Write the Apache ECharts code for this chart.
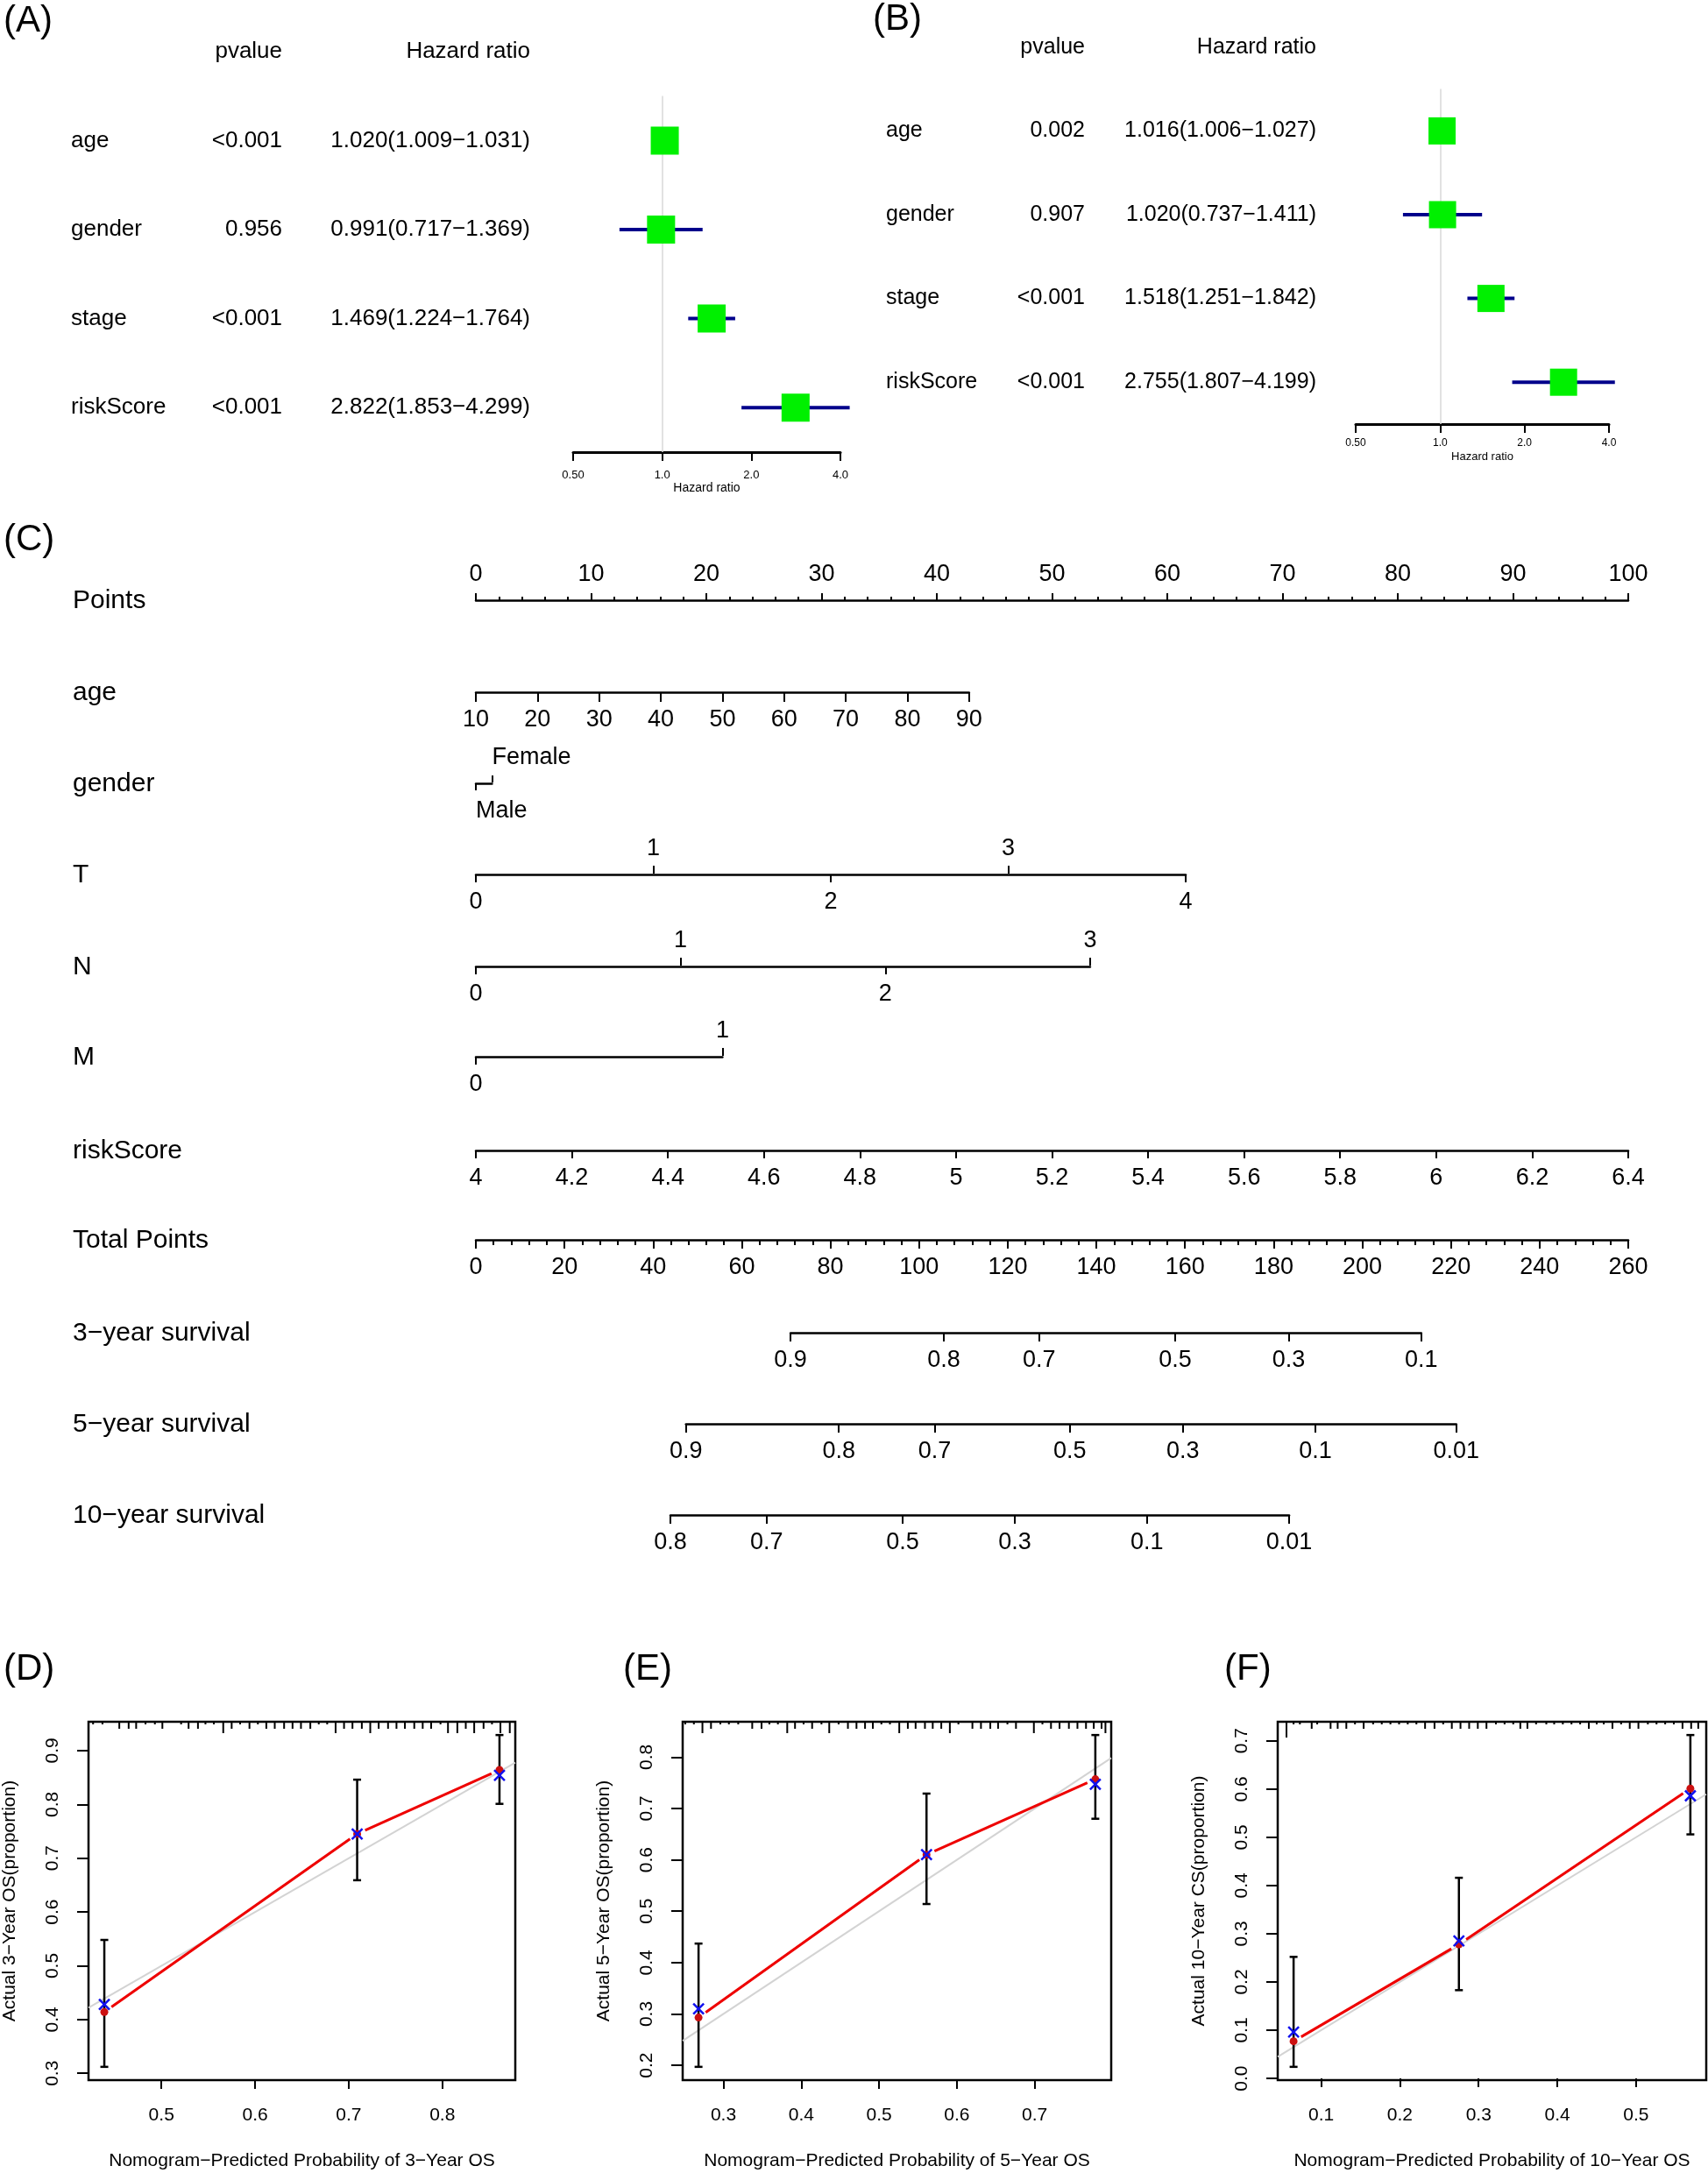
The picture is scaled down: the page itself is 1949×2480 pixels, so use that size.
<!DOCTYPE html>
<html>
<head>
<meta charset="utf-8">
<title>Cox models, nomogram and calibration curves</title>
<script src="https://cdn.jsdelivr.net/npm/echarts@6/dist/echarts.min.js"></script>
<style>
  html, body { margin: 0; padding: 0; background: #fff; }
  #chart { width: 1949px; height: 2480px; }
</style>
</head>
<body>
<div id="chart"></div>
<script>
// ---------- data ----------
// (A) univariate Cox
const forestVars = ['age', 'gender', 'stage', 'riskScore'];
const uniP = ['<0.001', '0.956', '<0.001', '<0.001'];
const uniHR = [1.020, 0.991, 1.469, 2.822];
const uniLow = [1.009, 0.717, 1.224, 1.853];
const uniHigh = [1.031, 1.369, 1.764, 4.299];
// (B) multivariate Cox
const multiP = ['0.002', '0.907', '<0.001', '<0.001'];
const multiHR = [1.016, 1.020, 1.518, 2.755];
const multiLow = [1.006, 0.737, 1.251, 1.807];
const multiHigh = [1.027, 1.411, 1.842, 4.199];
const hrTicks = [0.5, 1, 2, 4];

// (C) nomogram: tick values, and the points reached at the first / last tick
const pointsTicksMax = 100;
const ageTicks = [10, 20, 30, 40, 50, 60, 70, 80, 90];
const agePts = [0, 42.8];
const genderLevels = ['Male', 'Female'];
const genderPts = [0, 1.4];
const tTicks = [0, 1, 2, 3, 4];
const tPts = [0, 61.6];
const nTicks = [0, 1, 2, 3];
const nPts = [0, 53.3];
const mTicks = [0, 1];
const mPts = [0, 21.4];
const riskTicks = [4, 4.2, 4.4, 4.6, 4.8, 5, 5.2, 5.4, 5.6, 5.8, 6, 6.2, 6.4];
const riskPts = [0, 100];
const totalMax = 260;
const surv3Labels = ['0.9', '0.8', '0.7', '0.5', '0.3', '0.1'];
const surv3Total = [71.0, 105.6, 127.1, 157.8, 183.4, 213.3];
const surv5Labels = ['0.9', '0.8', '0.7', '0.5', '0.3', '0.1', '0.01'];
const surv5Total = [47.4, 81.9, 103.5, 134.0, 159.5, 189.4, 221.2];
const surv10Labels = ['0.8', '0.7', '0.5', '0.3', '0.1', '0.01'];
const surv10Total = [43.9, 65.6, 96.3, 121.6, 151.4, 183.5];

// (D) 3-year calibration
const cal3Pred = [0.439, 0.709, 0.861];
const cal3Obs = [0.414, 0.745, 0.864];
const cal3Corr = [0.428, 0.745, 0.854];
const cal3Lo = [0.312, 0.659, 0.801];
const cal3Hi = [0.548, 0.846, 0.929];
const cal3XTicks = [0.5, 0.6, 0.7, 0.8];
const cal3YTicks = [0.3, 0.4, 0.5, 0.6, 0.7, 0.8, 0.9];
const cal3Rug = [0.427, 0.437, 0.455, 0.465, 0.473, 0.483, 0.493, 0.501, 0.521, 0.529, 0.539, 0.547, 0.556, 0.566, 0.575, 0.584,
  0.594, 0.603, 0.612, 0.621, 0.631, 0.640, 0.649, 0.659, 0.668, 0.677, 0.686, 0.695, 0.704, 0.714, 0.723, 0.732,
  0.742, 0.751, 0.760, 0.770, 0.779, 0.788, 0.798, 0.806, 0.816, 0.825, 0.834, 0.844, 0.853, 0.862, 0.872];
const cal3RugN = [1, 1, 2, 2, 2, 1, 1, 2, 1, 2, 2, 1, 1, 3, 2, 1, 2, 1, 2, 2, 2, 2, 2, 2, 1, 1, 3, 2, 2, 2, 3, 2,
  2, 2, 2, 2, 2, 2, 1, 3, 3, 2, 3, 2, 1, 3, 3];

// (E) 5-year calibration
const cal5Pred = [0.268, 0.561, 0.778];
const cal5Obs = [0.293, 0.610, 0.757];
const cal5Corr = [0.310, 0.610, 0.747];
const cal5Lo = [0.197, 0.514, 0.680];
const cal5Hi = [0.437, 0.729, 0.843];
const cal5XTicks = [0.3, 0.4, 0.5, 0.6, 0.7];
const cal5YTicks = [0.2, 0.3, 0.4, 0.5, 0.6, 0.7, 0.8];
const cal5Rug = [0.251, 0.262, 0.273, 0.284, 0.296, 0.307, 0.319, 0.337, 0.349, 0.359, 0.370, 0.382, 0.392, 0.403, 0.414, 0.426,
  0.436, 0.448, 0.460, 0.471, 0.482, 0.492, 0.503, 0.514, 0.526, 0.537, 0.547, 0.559, 0.569, 0.580, 0.591, 0.602,
  0.620, 0.631, 0.643, 0.653, 0.665, 0.676, 0.699, 0.710, 0.721, 0.732, 0.744, 0.755, 0.766, 0.776, 0.786, 0.791];
const cal5RugN = [1, 1, 3, 2, 1, 1, 1, 2, 2, 1, 1, 3, 2, 1, 2, 1, 3, 1, 2, 2, 2, 2, 1, 1, 3, 2, 2, 2, 2, 2, 3, 1,
  2, 2, 2, 2, 1, 2, 3, 1, 2, 2, 2, 2, 2, 2, 2, 3];

// (F) 10-year calibration
const cal10Pred = [0.065, 0.275, 0.569];
const cal10Obs = [0.077, 0.278, 0.601];
const cal10Corr = [0.096, 0.285, 0.586];
const cal10Lo = [0.024, 0.183, 0.506];
const cal10Hi = [0.252, 0.416, 0.712];
const cal10XTicks = [0.1, 0.2, 0.3, 0.4, 0.5];
const cal10YTicks = [0.0, 0.1, 0.2, 0.3, 0.4, 0.5, 0.6, 0.7];
const cal10Rug = [0.056, 0.065, 0.073, 0.088, 0.095, 0.112, 0.121, 0.132, 0.143, 0.154, 0.166, 0.177, 0.188, 0.199, 0.210, 0.221,
  0.232, 0.244, 0.255, 0.266, 0.277, 0.288, 0.299, 0.310, 0.322, 0.333, 0.344, 0.353, 0.362, 0.373, 0.386, 0.396,
  0.407, 0.418, 0.429, 0.440, 0.450, 0.459, 0.470, 0.481, 0.492, 0.503, 0.515, 0.526, 0.537, 0.548, 0.559, 0.570, 0.579];
const cal10RugN = [4, 1, 1, 2, 1, 2, 2, 2, 1, 2, 1, 1, 1, 1, 1, 1, 2, 2, 1, 2, 2, 2, 2, 2, 1, 1, 1, 2, 2, 1, 1, 1,
  1, 1, 1, 2, 1, 1, 2, 1, 2, 2, 1, 1, 1, 1, 2, 2, 2];

// ---------- layout helpers ----------
const FONT = "'Liberation Sans', Arial, Helvetica, sans-serif";
const grid = [], xAxis = [], yAxis = [], series = [], graphic = [];

function addGrid(g) { grid.push(g); return grid.length - 1; }

function addText(text, x, y, size, align) {
  graphic.push({
    type: 'text', x: x, y: y, silent: true,
    style: { text: text, fontSize: size, fontFamily: FONT, fill: '#000',
      align: align || 'left', verticalAlign: 'middle', textAlign: align || 'left', textVerticalAlign: 'middle' }
  });
}

const fmt3 = v => v.toFixed(3);

// ---------- forest plots (A, B) ----------
function forest(o) {
  const nRow = o.vars.length;
  const tg = addGrid({ left: o.tableLeft, width: o.tableWidth, top: o.top, height: o.rowH * (nRow + 1) });
  xAxis.push({ gridIndex: tg, type: 'value', min: 0, max: 1, show: false });
  yAxis.push({ gridIndex: tg, type: 'category', data: ['header'].concat(o.vars), inverse: true, show: false });
  const txi = xAxis.length - 1, tyi = yAxis.length - 1;
  const hrText = o.hr.map((h, i) => fmt3(h) + '(' + fmt3(o.lo[i]) + '−' + fmt3(o.hi[i]) + ')');
  const cols = [
    { x: 0, align: 'left', texts: [''].concat(o.vars) },
    { x: o.pCol, align: 'right', texts: ['pvalue'].concat(o.pvals) },
    { x: 1, align: 'right', texts: ['Hazard ratio'].concat(hrText) }
  ];
  cols.forEach(c => series.push({
    type: 'custom', xAxisIndex: txi, yAxisIndex: tyi, silent: true,
    data: c.texts.map((t, i) => [c.x, i]),
    renderItem: (params, api) => {
      const p = api.coord([api.value(0), api.value(1)]);
      return { type: 'text', x: p[0], y: p[1], style: {
        text: c.texts[params.dataIndex], fontSize: o.fs, fontFamily: FONT, fill: '#000',
        align: c.align, verticalAlign: 'middle', textAlign: c.align, textVerticalAlign: 'middle' } };
    }
  }));

  const fg = addGrid({ left: o.plotLeft, width: o.plotWidth, top: o.top + o.rowH, height: o.rowH * nRow });
  xAxis.push({
    gridIndex: fg, type: 'log', logBase: 2, min: hrTicks[0], max: hrTicks[hrTicks.length - 1],
    axisLine: { show: true, lineStyle: { color: '#000', width: 3 } },
    axisTick: { show: true, length: 10, customValues: hrTicks, lineStyle: { color: '#000', width: 2 } },
    axisLabel: { customValues: hrTicks, fontSize: o.tickFs, fontFamily: FONT, color: '#000', margin: o.labelMargin,
      formatter: v => (v < 1 ? v.toFixed(2) : v.toFixed(1)) },
    splitLine: { show: false },
    name: 'Hazard ratio', nameLocation: 'middle', nameGap: o.nameGap,
    nameTextStyle: { fontSize: o.tickFs + 1, fontFamily: FONT, color: '#000' }
  });
  yAxis.push({ gridIndex: fg, type: 'category', data: o.vars, inverse: true, show: false });
  const fxi = xAxis.length - 1, fyi = yAxis.length - 1;

  series.push({
    type: 'custom', xAxisIndex: fxi, yAxisIndex: fyi, silent: true, z: 2,
    data: o.vars.map((v, i) => [o.lo[i], i, o.hi[i]]),
    renderItem: (params, api) => {
      const a = api.coord([api.value(0), api.value(1)]);
      const b = api.coord([api.value(2), api.value(1)]);
      return { type: 'line', shape: { x1: a[0], y1: a[1], x2: b[0], y2: b[1] },
        style: { stroke: '#00008B', lineWidth: 4 } };
    },
    markLine: {
      silent: true, symbol: ['none', 'none'], label: { show: false }, z: 1,
      lineStyle: { color: '#d9d9d9', width: 1.5, type: 'solid' },
      data: [{ xAxis: 1 }]
    }
  });
  series.push({
    type: 'scatter', xAxisIndex: fxi, yAxisIndex: fyi, silent: true, z: 3,
    symbol: 'rect', symbolSize: o.box,
    itemStyle: { color: '#00f000', opacity: 1 },
    data: o.hr.map((h, i) => [h, i])
  });
}

forest({ vars: forestVars, pvals: uniP, hr: uniHR, lo: uniLow, hi: uniHigh,
  tableLeft: 81, tableWidth: 524, pCol: 0.46, top: 8, rowH: 101.6, fs: 26,
  plotLeft: 654, plotWidth: 305, box: 32, tickFs: 13, labelMargin: 20, nameGap: 34 });
forest({ vars: forestVars, pvals: multiP, hr: multiHR, lo: multiLow, hi: multiHigh,
  tableLeft: 1011, tableWidth: 491, pCol: 0.4623, top: 6, rowH: 95.6, fs: 25,
  plotLeft: 1547, plotWidth: 289, box: 31, tickFs: 12, labelMargin: 16, nameGap: 31 });

// ---------- nomogram (C) ----------
const ptsLeft = 543, ptsWidth = 1315;
const ptsToX = p => ptsLeft + p / pointsTicksMax * ptsWidth;
const totToX = t => ptsLeft + t / totalMax * ptsWidth;
const nearest = (arr, v) => arr.reduce((bi, a, i) => (Math.abs(a - v) < Math.abs(arr[bi] - v) ? i : bi), 0);
const evenIdx = arr => arr.filter((_, i) => i % 2 === 0);
const oddIdx = arr => arr.filter((_, i) => i % 2 === 1);

function nomoAxis(g, o, pos, part) {
  const below = pos === 'bottom';
  const ax = {
    gridIndex: g, type: 'value', position: pos, min: o.min, max: o.max,
    axisLine: { show: below || !o.bottom, lineStyle: { color: '#000', width: 2.5 } },
    axisTick: { show: true, length: o.tickLen || 10, lineStyle: { color: '#000', width: 2 } },
    axisLabel: { show: true, fontSize: 27, fontFamily: FONT, color: '#000', margin: below ? 18 : 15,
      align: o.labelAlign || 'center', formatter: part.fmt || (v => String(Math.round(v * 100) / 100)) },
    splitLine: { show: false }
  };
  if (part.values) {
    ax.axisTick.customValues = part.values;
    ax.axisLabel.customValues = part.values;
  } else {
    ax.interval = part.interval;
    ax.minorTick = { show: true, splitNumber: 5, length: o.minorLen, lineStyle: { color: '#000', width: 2 } };
  }
  xAxis.push(ax);
}

function nomoRow(o) {
  const g = addGrid({ left: o.x0, width: o.x1 - o.x0, top: o.lineY - 1, height: 1 });
  yAxis.push({ gridIndex: g, type: 'value', min: 0, max: 1, show: false });
  if (o.bottom) nomoAxis(g, o, 'bottom', o.bottom);
  if (o.top) nomoAxis(g, o, 'top', o.top);
  addText(o.name, 83, o.lineY + 1, 30, 'left');
}

nomoRow({ name: 'Points', lineY: 685, x0: ptsToX(0), x1: ptsToX(pointsTicksMax), min: 0, max: pointsTicksMax,
  top: { interval: 10 }, tickLen: 8, minorLen: 4 });
nomoRow({ name: 'age', lineY: 790, x0: ptsToX(agePts[0]), x1: ptsToX(agePts[1]),
  min: ageTicks[0], max: ageTicks[ageTicks.length - 1], bottom: { values: ageTicks }, tickLen: 11 });
nomoRow({ name: 'gender', lineY: 894, x0: ptsToX(genderPts[0]), x1: ptsToX(genderPts[1]), min: 0, max: 1,
  bottom: { values: [0], fmt: v => genderLevels[Math.round(v)] }, top: { values: [1], fmt: v => genderLevels[Math.round(v)] },
  tickLen: 8, labelAlign: 'left' });
nomoRow({ name: 'T', lineY: 998, x0: ptsToX(tPts[0]), x1: ptsToX(tPts[1]), min: tTicks[0], max: tTicks[tTicks.length - 1],
  bottom: { values: evenIdx(tTicks) }, top: { values: oddIdx(tTicks) }, tickLen: 9 });
nomoRow({ name: 'N', lineY: 1103, x0: ptsToX(nPts[0]), x1: ptsToX(nPts[1]), min: nTicks[0], max: nTicks[nTicks.length - 1],
  bottom: { values: evenIdx(nTicks) }, top: { values: oddIdx(nTicks) }, tickLen: 9 });
nomoRow({ name: 'M', lineY: 1206, x0: ptsToX(mPts[0]), x1: ptsToX(mPts[1]), min: mTicks[0], max: mTicks[mTicks.length - 1],
  bottom: { values: evenIdx(mTicks) }, top: { values: oddIdx(mTicks) }, tickLen: 9 });
nomoRow({ name: 'riskScore', lineY: 1313, x0: ptsToX(riskPts[0]), x1: ptsToX(riskPts[1]),
  min: riskTicks[0], max: riskTicks[riskTicks.length - 1], bottom: { values: riskTicks }, tickLen: 9 });
nomoRow({ name: 'Total Points', lineY: 1415, x0: totToX(0), x1: totToX(totalMax), min: 0, max: totalMax,
  bottom: { interval: 20 }, tickLen: 10, minorLen: 6 });
[[surv3Labels, surv3Total, '3−year survival', 1521],
 [surv5Labels, surv5Total, '5−year survival', 1625],
 [surv10Labels, surv10Total, '10−year survival', 1729]].forEach(([labels, tot, name, y]) => {
  nomoRow({ name: name, lineY: y, x0: totToX(tot[0]), x1: totToX(tot[tot.length - 1]),
    min: tot[0], max: tot[tot.length - 1], tickLen: 10,
    bottom: { values: tot, fmt: v => labels[nearest(tot, v)] } });
});

// ---------- calibration curves (D, E, F) ----------
const expand = (a, b) => [a - 0.04 * (b - a), b + 0.04 * (b - a)];
const rugLen = [0, 3, 8, 13, 18];

function calib(o) {
  const xl = expand(Math.min(...o.pred), Math.max(...o.pred));
  const yl = expand(Math.min(...o.lo), Math.max(...o.hi));
  const g = addGrid({ left: o.left, width: o.width, top: 1965, height: 409,
    show: true, borderColor: '#000', borderWidth: 2.5, backgroundColor: 'transparent' });
  xAxis.push({
    gridIndex: g, type: 'value', min: xl[0], max: xl[1],
    axisLine: { show: false },
    axisTick: { show: true, length: 10, customValues: o.xTicks, lineStyle: { color: '#000', width: 2 } },
    axisLabel: { customValues: o.xTicks, fontSize: 21, fontFamily: FONT, color: '#000', margin: 30, formatter: v => v.toFixed(1) },
    splitLine: { show: false },
    name: o.xName, nameLocation: 'middle', nameGap: 82,
    nameTextStyle: { fontSize: 21, fontFamily: FONT, color: '#000' }
  });
  yAxis.push({
    gridIndex: g, type: 'value', min: yl[0], max: yl[1],
    axisLine: { show: false },
    axisTick: { show: true, length: 13, customValues: o.yTicks, lineStyle: { color: '#000', width: 2 } },
    axisLabel: { customValues: o.yTicks, rotate: 90, fontSize: 21, fontFamily: FONT, color: '#000', margin: 30,
      formatter: v => v.toFixed(1) },
    splitLine: { show: false },
    name: o.yName, nameLocation: 'middle', nameGap: 79, nameRotate: 90,
    nameTextStyle: { fontSize: 21, fontFamily: FONT, color: '#000' }
  });
  const xi = xAxis.length - 1, yi = yAxis.length - 1;
  const base = { xAxisIndex: xi, yAxisIndex: yi, silent: true };

  // ideal line
  series.push(Object.assign({}, base, {
    type: 'line', z: 1, symbol: 'none', clip: true,
    lineStyle: { color: '#d3d3d3', width: 2 },
    data: [[xl[0], xl[0]], [xl[1], xl[1]]]
  }));
  // observed curve, drawn as in R type = "b": segments leave a small gap round each point
  series.push(Object.assign({}, base, {
    type: 'custom', z: 2,
    data: o.pred.slice(1).map((p, i) => [o.pred[i], o.obs[i], p, o.obs[i + 1]]),
    renderItem: (params, api) => {
      const a = api.coord([api.value(0), api.value(1)]);
      const b = api.coord([api.value(2), api.value(3)]);
      const dx = b[0] - a[0], dy = b[1] - a[1];
      const len = Math.sqrt(dx * dx + dy * dy), gap = 10;
      const ux = dx / len, uy = dy / len;
      return { type: 'line',
        shape: { x1: a[0] + ux * gap, y1: a[1] + uy * gap, x2: b[0] - ux * gap, y2: b[1] - uy * gap },
        style: { stroke: '#ee0000', lineWidth: 3 } };
    }
  }));
  // error bars
  series.push(Object.assign({}, base, {
    type: 'custom', z: 3,
    data: o.pred.map((p, i) => [p, o.lo[i], o.hi[i]]),
    renderItem: (params, api) => {
      const top = api.coord([api.value(0), api.value(2)]);
      const bot = api.coord([api.value(0), api.value(1)]);
      const st = { stroke: '#000', lineWidth: 2.5 };
      const c = 4.5;
      return { type: 'group', children: [
        { type: 'line', shape: { x1: top[0], y1: top[1], x2: bot[0], y2: bot[1] }, style: st },
        { type: 'line', shape: { x1: top[0] - c, y1: top[1], x2: top[0] + c, y2: top[1] }, style: st },
        { type: 'line', shape: { x1: bot[0] - c, y1: bot[1], x2: bot[0] + c, y2: bot[1] }, style: st }
      ] };
    }
  }));
  series.push(Object.assign({}, base, {
    type: 'scatter', z: 4, symbol: 'circle', symbolSize: 9,
    itemStyle: { color: '#cc1010', opacity: 1 },
    data: o.pred.map((p, i) => [p, o.obs[i]])
  }));
  series.push(Object.assign({}, base, {
    type: 'custom', z: 5,
    data: o.pred.map((p, i) => [p, o.corr[i]]),
    renderItem: (params, api) => {
      const c = api.coord([api.value(0), api.value(1)]);
      const h = 6;
      const st = { stroke: '#1010ee', lineWidth: 2.5 };
      return { type: 'group', children: [
        { type: 'line', shape: { x1: c[0] - h, y1: c[1] - h, x2: c[0] + h, y2: c[1] + h }, style: st },
        { type: 'line', shape: { x1: c[0] - h, y1: c[1] + h, x2: c[0] + h, y2: c[1] - h }, style: st }
      ] };
    }
  }));
  // rug of predicted probabilities along the top edge
  series.push(Object.assign({}, base, {
    type: 'custom', z: 3,
    data: o.rug.map((v, i) => [v, yl[1], o.rugN[i]]),
    renderItem: (params, api) => {
      const p = api.coord([api.value(0), api.value(1)]);
      return { type: 'line', shape: { x1: p[0], y1: p[1], x2: p[0], y2: p[1] + rugLen[api.value(2)] },
        style: { stroke: '#000', lineWidth: 2 } };
    }
  }));
}

calib({ pred: cal3Pred, obs: cal3Obs, corr: cal3Corr, lo: cal3Lo, hi: cal3Hi, rug: cal3Rug, rugN: cal3RugN,
  xTicks: cal3XTicks, yTicks: cal3YTicks, left: 100, width: 488,
  xName: 'Nomogram−Predicted Probability of 3−Year OS', yName: 'Actual 3−Year OS(proportion)' });
calib({ pred: cal5Pred, obs: cal5Obs, corr: cal5Corr, lo: cal5Lo, hi: cal5Hi, rug: cal5Rug, rugN: cal5RugN,
  xTicks: cal5XTicks, yTicks: cal5YTicks, left: 779, width: 489,
  xName: 'Nomogram−Predicted Probability of 5−Year OS', yName: 'Actual 5−Year OS(proportion)' });
calib({ pred: cal10Pred, obs: cal10Obs, corr: cal10Corr, lo: cal10Lo, hi: cal10Hi, rug: cal10Rug, rugN: cal10RugN,
  xTicks: cal10XTicks, yTicks: cal10YTicks, left: 1458, width: 489,
  xName: 'Nomogram−Predicted Probability of 10−Year OS', yName: 'Actual 10−Year CS(proportion)' });

// panel letters
addText('(A)', 4, 24, 42);
addText('(B)', 996, 22, 42);
addText('(C)', 4, 616, 42);
addText('(D)', 4, 1905, 42);
addText('(E)', 711, 1905, 42);
addText('(F)', 1397, 1905, 42);

const chart = echarts.init(document.getElementById('chart'), null, { renderer: 'canvas' });
chart.setOption({
  animation: false,
  backgroundColor: '#fff',
  textStyle: { fontFamily: FONT },
  grid: grid,
  xAxis: xAxis,
  yAxis: yAxis,
  series: series,
  graphic: graphic
});
</script>
</body>
</html>
